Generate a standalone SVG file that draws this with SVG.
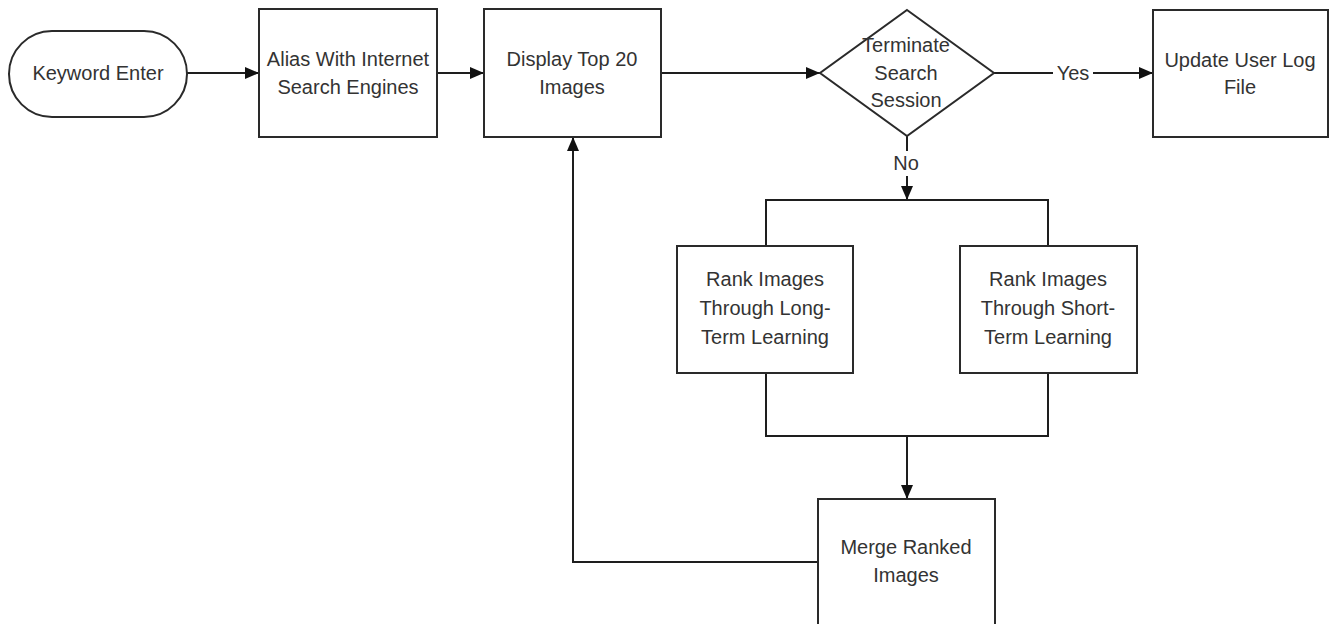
<svg xmlns="http://www.w3.org/2000/svg" width="1330" height="624" viewBox="0 0 1330 624">
<style>
.n{fill:#ffffff;stroke:#2a2a2a;stroke-width:2}
.t{font-family:"Liberation Sans",Arial,sans-serif;font-size:20px;fill:#333333;text-anchor:middle}
.c{fill:none;stroke:#1e1e1e;stroke-width:2}
.a{marker-end:url(#ah)}
</style>
<defs>
<marker id="ah" viewBox="0 0 14 12" refX="14" refY="6" markerWidth="14" markerHeight="12" markerUnits="userSpaceOnUse" orient="auto">
<path d="M0,0 L14,6 L0,12 z" fill="#111111"/>
</marker>
</defs>
<rect width="1330" height="624" fill="#ffffff"/>
<g id="connectors">
<path class="c a" d="M187,73 L259,73"/>
<path class="c a" d="M437,73 L484,73"/>
<path class="c a" d="M661,73 L820,73"/>
<path class="c" d="M994,73 L1053,73"/>
<path class="c a" d="M1093,73 L1153,73"/>
<path class="c" d="M907,136 L907,151"/>
<path class="c a" d="M907,176 L907,200"/>
<path class="c" d="M766,246 L766,200 L1048,200 L1048,246"/>
<path class="c" d="M766,373 L766,436 L1048,436 L1048,373"/>
<path class="c a" d="M907,436 L907,499"/>
<path class="c a" d="M818,562 L573,562 L573,137"/>
<text class="t" x="1073" y="80">Yes</text>
<text class="t" x="906" y="170">No</text>
</g>
<g id="keyword-enter">
<rect class="n" x="9" y="31" width="178" height="86" rx="43" ry="43"/>
<text class="t" x="98" y="80">Keyword Enter</text>
</g>
<g id="alias">
<rect class="n" x="259" y="9" width="178" height="128"/>
<text class="t" x="348" y="66">Alias With Internet</text>
<text class="t" x="348" y="94">Search Engines</text>
</g>
<g id="display">
<rect class="n" x="484" y="9" width="177" height="128"/>
<text class="t" x="572" y="66">Display Top 20</text>
<text class="t" x="572" y="94">Images</text>
</g>
<g id="terminate">
<polygon class="n" points="907,10 994,73 907,136 820,73"/>
<text class="t" x="906" y="52">Terminate</text>
<text class="t" x="906" y="80">Search</text>
<text class="t" x="906" y="107">Session</text>
</g>
<g id="update">
<rect class="n" x="1153" y="10" width="175" height="127"/>
<text class="t" x="1240" y="67">Update User Log</text>
<text class="t" x="1240" y="94">File</text>
</g>
<g id="rank-long">
<rect class="n" x="677" y="246" width="176" height="127"/>
<text class="t" x="765" y="286">Rank Images</text>
<text class="t" x="765" y="315">Through Long-</text>
<text class="t" x="765" y="344">Term Learning</text>
</g>
<g id="rank-short">
<rect class="n" x="960" y="246" width="177" height="127"/>
<text class="t" x="1048" y="286">Rank Images</text>
<text class="t" x="1048" y="315">Through Short-</text>
<text class="t" x="1048" y="344">Term Learning</text>
</g>
<g id="merge">
<rect class="n" x="818" y="499" width="177" height="140"/>
<text class="t" x="906" y="554">Merge Ranked</text>
<text class="t" x="906" y="582">Images</text>
</g>
</svg>
